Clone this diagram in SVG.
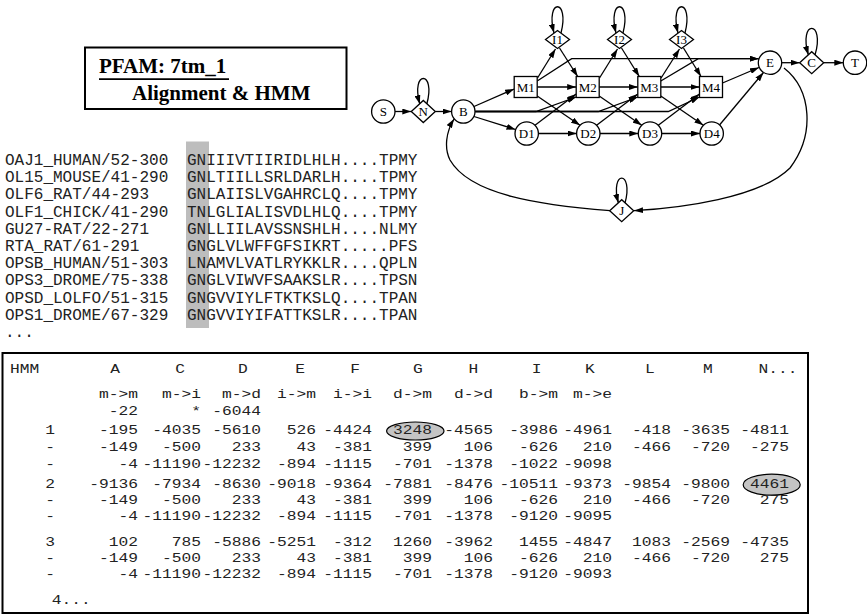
<svg xmlns="http://www.w3.org/2000/svg" width="867" height="614" viewBox="0 0 867 614">
<defs>
<style>
.e{fill:none;stroke:#000;stroke-width:1.3;marker-end:url(#ah)}
.n{fill:#fff;stroke:#000;stroke-width:1.3}
.lb{font-family:"Liberation Serif","Times New Roman",serif;font-size:13px;text-anchor:middle;fill:#000}
.mono{font-family:"Liberation Mono","Courier New",monospace;fill:#222}
.al{font-size:16px}
.tb{font-size:12.5px}
.end tspan{text-anchor:end}
</style>
<marker id="ah" viewBox="0 0 9 6" refX="9" refY="3" markerWidth="9" markerHeight="6" markerUnits="userSpaceOnUse" orient="auto">
<path d="M0,0 L9,3 L0,6 z" fill="#000"/>
</marker>
</defs>
<rect width="867" height="614" fill="#fff"/>

<g id="title">
<rect x="85" y="47.5" width="261.5" height="61.5" fill="#fff" stroke="#000" stroke-width="2"/>
<text x="99" y="73" font-family="Liberation Serif,'Times New Roman',serif" font-weight="bold" font-size="21">PFAM: 7tm_1</text>
<line x1="99" y1="79.2" x2="229" y2="79.2" stroke="#000" stroke-width="1.8"/>
<text x="132" y="100" font-family="Liberation Serif,'Times New Roman',serif" font-weight="bold" font-size="21">Alignment &amp; HMM</text>
</g>

<g id="alignment">
<rect x="186" y="141.5" width="23" height="186.5" fill="#bdbdbd"/>
<text class="mono al" x="5" y="165">OAJ1_HUMAN/52-300</text>
<text class="mono al" x="5" y="182.2">OL15_MOUSE/41-290</text>
<text class="mono al" x="5" y="199.4">OLF6_RAT/44-293</text>
<text class="mono al" x="5" y="216.6">OLF1_CHICK/41-290</text>
<text class="mono al" x="5" y="233.8">GU27-RAT/22-271</text>
<text class="mono al" x="5" y="251">RTA_RAT/61-291</text>
<text class="mono al" x="5" y="268.2">OPSB_HUMAN/51-303</text>
<text class="mono al" x="5" y="285.4">OPS3_DROME/75-338</text>
<text class="mono al" x="5" y="302.6">OPSD_LOLFO/51-315</text>
<text class="mono al" x="5" y="319.8">OPS1_DROME/67-329</text>
<text class="mono al" x="5" y="337">...</text>
<text class="mono al" x="187" y="165">GNIIIVTIIRIDLHLH....TPMY</text>
<text class="mono al" x="187" y="182.2">GNLTIILLSRLDARLH....TPMY</text>
<text class="mono al" x="187" y="199.4">GNLAIISLVGAHRCLQ....TPMY</text>
<text class="mono al" x="187" y="216.6">TNLGLIALISVDLHLQ....TPMY</text>
<text class="mono al" x="187" y="233.8">GNLLIILAVSSNSHLH....NLMY</text>
<text class="mono al" x="187" y="251">GNGLVLWFFGFSIKRT.....PFS</text>
<text class="mono al" x="187" y="268.2">LNAMVLVATLRYKKLR....QPLN</text>
<text class="mono al" x="187" y="285.4">GNGLVIWVFSAAKSLR....TPSN</text>
<text class="mono al" x="187" y="302.6">GNGVVIYLFTKTKSLQ....TPAN</text>
<text class="mono al" x="187" y="319.8">GNGVVIYIFATTKSLR....TPAN</text>
</g>

<g id="connectors">
<path class="e" d="M395,111.5 L411.3,111.5"/>
<path class="e" d="M435.3,111.5 L451.6,111.5"/>
<path class="e" d="M426.8,104 C436.3,70 410.3,70 419.8,104"/>
<path class="e" d="M474,106.5 L514.2,89"/>
<path class="e" d="M474,116.5 L515.5,129.5"/>
<path class="e" d="M475.2,111.5 L536,111.5 L576.2,97"/>
<path class="e" d="M475.2,111.5 L598.3,111.5 L637.8,97"/>
<path class="e" d="M475.2,111.5 L668.3,111.5 L699.5,97"/>
<path class="e" d="M537.2,87 L576.2,87"/>
<path class="e" d="M599.2,87 L637.8,87"/>
<path class="e" d="M660.8,87 L699.5,87"/>
<path class="e" d="M538.4,133.5 L576.6,133.5"/>
<path class="e" d="M600,133.5 L638.3,133.5"/>
<path class="e" d="M661.7,133.5 L700,133.5"/>
<path class="e" d="M537.5,78 L555.5,49"/>
<path class="e" d="M599.5,78 L617.5,49"/>
<path class="e" d="M661.1,78 L679.5,49"/>
<path class="e" d="M559.5,48 L577.7,76.5"/>
<path class="e" d="M621.5,48 L639.3,76.5"/>
<path class="e" d="M683.5,48 L701,76.5"/>
<path class="e" d="M561,33 C570,-2 545,-2 554,33"/>
<path class="e" d="M623,33 C632,-2 607,-2 616,33"/>
<path class="e" d="M685,33 C694,-2 669,-2 678,33"/>
<path class="e" d="M537.2,96 L580,125.2"/>
<path class="e" d="M599.2,96 L641.7,125.2"/>
<path class="e" d="M660.8,96 L703.4,125.2"/>
<path class="e" d="M535,125.2 L576.2,94"/>
<path class="e" d="M596.6,125.2 L637.8,94"/>
<path class="e" d="M658.3,125.2 L699.5,94"/>
<path class="e" d="M537.2,81 L571.7,58.7 L758.5,58.7"/>
<path class="e" d="M660.8,81 L698.3,58.7 L758.5,58.7"/>
<path class="e" d="M722.5,83 L759,67.5"/>
<path class="e" d="M719.5,125 L763.5,72.5"/>
<path class="e" d="M781.7,62.7 L799.7,62.7"/>
<path class="e" d="M823.7,62.7 L843.3,62.7"/>
<path class="e" d="M815,55 C825.5,19.5 797.9,19.5 808.4,55"/>
<path class="e" d="M784,68 C812,90 815,135 790,168 C760,198 680,208 634,210.7"/>
<path class="e" d="M610,210.7 C540,205 470,195 450,160 C444,148 446,132 454,119"/>
<path class="e" d="M625,203 C634,169.7 609.4,169.7 618.4,203"/>
</g>

<g id="node-S"><circle class="n" cx="383.3" cy="111.5" r="11.7"/><text class="lb" x="383.3" y="116">S</text></g>
<g id="node-N"><polygon class="n" points="411.3,111.5 423.3,100.5 435.3,111.5 423.3,122.5"/><text class="lb" x="423.3" y="116">N</text></g>
<g id="node-B"><circle class="n" cx="463.3" cy="111.5" r="11.7"/><text class="lb" x="463.3" y="116">B</text></g>
<g id="node-M1"><rect class="n" x="514.2" y="76.5" width="23" height="21"/><text class="lb" x="525.7" y="91.5">M1</text></g>
<g id="node-M2"><rect class="n" x="576.2" y="76.5" width="23" height="21"/><text class="lb" x="587.7" y="91.5">M2</text></g>
<g id="node-M3"><rect class="n" x="637.8" y="76.5" width="23" height="21"/><text class="lb" x="649.3" y="91.5">M3</text></g>
<g id="node-M4"><rect class="n" x="699.5" y="76.5" width="23" height="21"/><text class="lb" x="711" y="91.5">M4</text></g>
<g id="node-D1"><circle class="n" cx="526.7" cy="133.5" r="11.7"/><text class="lb" x="526.7" y="138">D1</text></g>
<g id="node-D2"><circle class="n" cx="588.3" cy="133.5" r="11.7"/><text class="lb" x="588.3" y="138">D2</text></g>
<g id="node-D3"><circle class="n" cx="650" cy="133.5" r="11.7"/><text class="lb" x="650" y="138">D3</text></g>
<g id="node-D4"><circle class="n" cx="711.7" cy="133.5" r="11.7"/><text class="lb" x="711.7" y="138">D4</text></g>
<g id="node-I1"><polygon class="n" points="545.5,39.5 557.5,30.5 569.5,39.5 557.5,48.5"/><text class="lb" x="557.5" y="44">I1</text></g>
<g id="node-I2"><polygon class="n" points="607.5,39.5 619.5,30.5 631.5,39.5 619.5,48.5"/><text class="lb" x="619.5" y="44">I2</text></g>
<g id="node-I3"><polygon class="n" points="669.5,39.5 681.5,30.5 693.5,39.5 681.5,48.5"/><text class="lb" x="681.5" y="44">I3</text></g>
<g id="node-E"><circle class="n" cx="770" cy="62.7" r="11.7"/><text class="lb" x="770" y="67.2">E</text></g>
<g id="node-C"><polygon class="n" points="799.7,62.7 811.7,51.7 823.7,62.7 811.7,73.7"/><text class="lb" x="811.7" y="67.2">C</text></g>
<g id="node-T"><circle class="n" cx="855" cy="62.7" r="11.7"/><text class="lb" x="855" y="67.2">T</text></g>
<g id="node-J"><polygon class="n" points="609.7,210.7 621.7,199.7 633.7,210.7 621.7,221.7"/><text class="lb" x="621.7" y="215.2">J</text></g>

<g id="hmm-table">
<rect x="2.5" y="353" width="805.5" height="260" fill="none" stroke="#000" stroke-width="2"/>
<ellipse cx="415.3" cy="431" rx="28.7" ry="9" fill="#c4c4c4" stroke="#000" stroke-width="1.2"/>
<ellipse cx="771.7" cy="484.7" rx="28.5" ry="10.5" fill="#c4c4c4" stroke="#000" stroke-width="1.2"/>
<g transform="scale(1.3,1)" class="mono tb">
<text x="7.7" y="373">HMM</text>
<text y="373" text-anchor="middle"><tspan x="88.5">A</tspan><tspan x="138.5">C</tspan><tspan x="186.9">D</tspan><tspan x="230.8">E</tspan><tspan x="273.1">F</tspan><tspan x="321.5">G</tspan><tspan x="364.1">H</tspan><tspan x="412.8">I</tspan><tspan x="453.8">K</tspan><tspan x="500">L</tspan><tspan x="544.6">M</tspan></text>
<text x="583.4" y="373">N...</text>
<text class="end" y="398"><tspan x="106.2">m-&gt;m</tspan><tspan x="154.6">m-&gt;i</tspan><tspan x="200.8">m-&gt;d</tspan><tspan x="243.1">i-&gt;m</tspan><tspan x="286.2">i-&gt;i</tspan><tspan x="332.3">d-&gt;m</tspan><tspan x="379.2">d-&gt;d</tspan><tspan x="429.2">b-&gt;m</tspan><tspan x="470.8">m-&gt;e</tspan></text>
<text class="end" y="415.5"><tspan x="106.2">-22</tspan><tspan x="154.6">*</tspan><tspan x="200.8">-6044</tspan></text>

<text x="38.5" y="434" text-anchor="middle">1</text>
<text x="38.5" y="451" text-anchor="middle">-</text>
<text x="38.5" y="468" text-anchor="middle">-</text>
<text class="end" y="434"><tspan x="106.2">-195</tspan><tspan x="154.6">-4035</tspan><tspan x="200.8">-5610</tspan><tspan x="243.1">526</tspan><tspan x="286.2">-4424</tspan><tspan x="332.3">3248</tspan><tspan x="379.2">-4565</tspan><tspan x="429.2">-3986</tspan><tspan x="470.8">-4961</tspan><tspan x="516.2">-418</tspan><tspan x="561.5">-3635</tspan><tspan x="606.9">-4811</tspan></text>
<text class="end" y="451"><tspan x="106.2">-149</tspan><tspan x="154.6">-500</tspan><tspan x="200.8">233</tspan><tspan x="243.1">43</tspan><tspan x="286.2">-381</tspan><tspan x="332.3">399</tspan><tspan x="379.2">106</tspan><tspan x="429.2">-626</tspan><tspan x="470.8">210</tspan><tspan x="516.2">-466</tspan><tspan x="561.5">-720</tspan><tspan x="606.9">-275</tspan></text>
<text class="end" y="468"><tspan x="106.2">-4</tspan><tspan x="154.6">-11190</tspan><tspan x="200.8">-12232</tspan><tspan x="243.1">-894</tspan><tspan x="286.2">-1115</tspan><tspan x="332.3">-701</tspan><tspan x="379.2">-1378</tspan><tspan x="429.2">-1022</tspan><tspan x="470.8">-9098</tspan></text>

<text x="38.5" y="488" text-anchor="middle">2</text>
<text x="38.5" y="504" text-anchor="middle">-</text>
<text x="38.5" y="520" text-anchor="middle">-</text>
<text class="end" y="488"><tspan x="106.2">-9136</tspan><tspan x="154.6">-7934</tspan><tspan x="200.8">-8630</tspan><tspan x="243.1">-9018</tspan><tspan x="286.2">-9364</tspan><tspan x="332.3">-7881</tspan><tspan x="379.2">-8476</tspan><tspan x="429.2">-10511</tspan><tspan x="470.8">-9373</tspan><tspan x="516.2">-9854</tspan><tspan x="561.5">-9800</tspan><tspan x="606.9">4461</tspan></text>
<text class="end" y="504"><tspan x="106.2">-149</tspan><tspan x="154.6">-500</tspan><tspan x="200.8">233</tspan><tspan x="243.1">43</tspan><tspan x="286.2">-381</tspan><tspan x="332.3">399</tspan><tspan x="379.2">106</tspan><tspan x="429.2">-626</tspan><tspan x="470.8">210</tspan><tspan x="516.2">-466</tspan><tspan x="561.5">-720</tspan><tspan x="606.9">275</tspan></text>
<text class="end" y="520"><tspan x="106.2">-4</tspan><tspan x="154.6">-11190</tspan><tspan x="200.8">-12232</tspan><tspan x="243.1">-894</tspan><tspan x="286.2">-1115</tspan><tspan x="332.3">-701</tspan><tspan x="379.2">-1378</tspan><tspan x="429.2">-9120</tspan><tspan x="470.8">-9095</tspan></text>

<text x="38.5" y="546" text-anchor="middle">3</text>
<text x="38.5" y="562" text-anchor="middle">-</text>
<text x="38.5" y="578" text-anchor="middle">-</text>
<text class="end" y="546"><tspan x="106.2">102</tspan><tspan x="154.6">785</tspan><tspan x="200.8">-5886</tspan><tspan x="243.1">-5251</tspan><tspan x="286.2">-312</tspan><tspan x="332.3">1260</tspan><tspan x="379.2">-3962</tspan><tspan x="429.2">1455</tspan><tspan x="470.8">-4847</tspan><tspan x="516.2">1083</tspan><tspan x="561.5">-2569</tspan><tspan x="606.9">-4735</tspan></text>
<text class="end" y="562"><tspan x="106.2">-149</tspan><tspan x="154.6">-500</tspan><tspan x="200.8">233</tspan><tspan x="243.1">43</tspan><tspan x="286.2">-381</tspan><tspan x="332.3">399</tspan><tspan x="379.2">106</tspan><tspan x="429.2">-626</tspan><tspan x="470.8">210</tspan><tspan x="516.2">-466</tspan><tspan x="561.5">-720</tspan><tspan x="606.9">275</tspan></text>
<text class="end" y="578"><tspan x="106.2">-4</tspan><tspan x="154.6">-11190</tspan><tspan x="200.8">-12232</tspan><tspan x="243.1">-894</tspan><tspan x="286.2">-1115</tspan><tspan x="332.3">-701</tspan><tspan x="379.2">-1378</tspan><tspan x="429.2">-9120</tspan><tspan x="470.8">-9093</tspan></text>

<text x="39.8" y="604">4...</text>
</g>
</g>
</svg>
